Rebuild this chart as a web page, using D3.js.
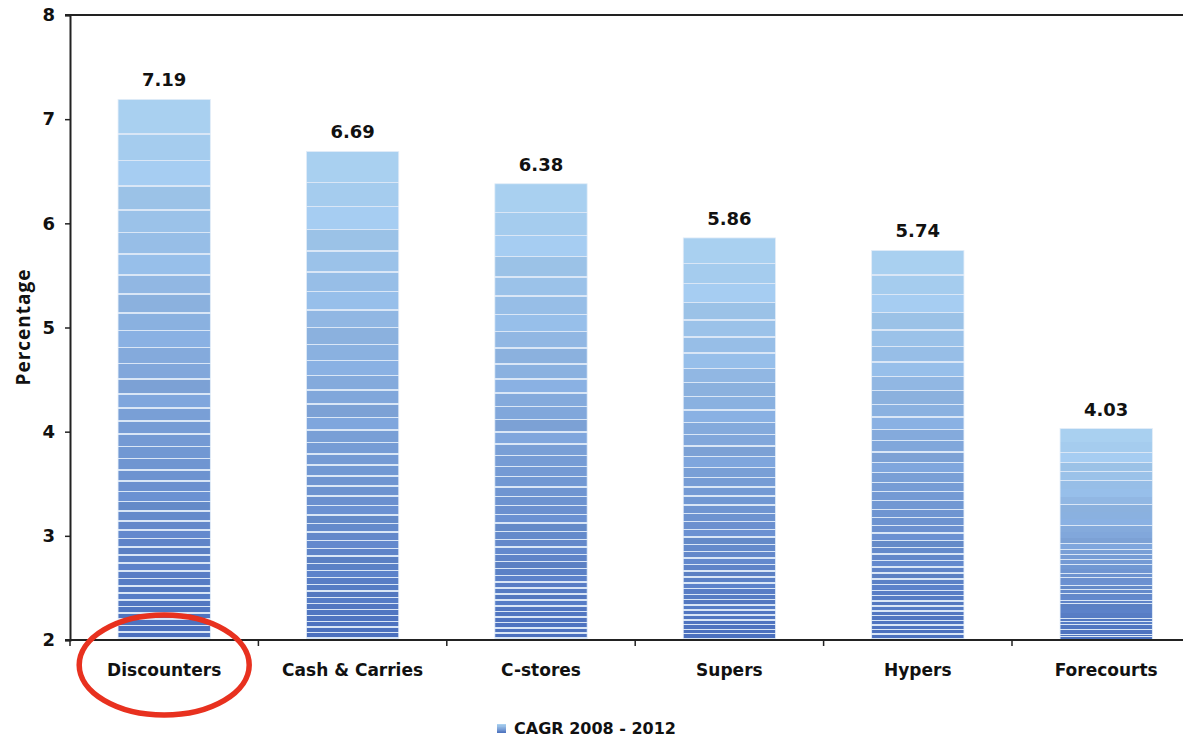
<!DOCTYPE html>
<html>
<head>
<meta charset="utf-8">
<script src="https://cdn.jsdelivr.net/npm/d3@7"></script>
<style>
  body { margin: 0; background: #fff; }
  text { fill: #111; }
</style>
</head>
<body>
<svg id="chart" width="1183" height="739"></svg>
<script>
// chart data
var categories = ["Discounters", "Cash & Carries", "C-stores", "Supers", "Hypers", "Forecourts"];
var cagrValues = [7.19, 6.69, 6.38, 5.86, 5.74, 4.03];
var yTicks = [2, 3, 4, 5, 6, 7, 8];
var seriesName = "CAGR 2008 - 2012";

var svg = d3.select("#chart");

var x = d3.scaleBand()
  .domain(categories)
  .range([70, 1200.4])
  .paddingInner(0.51)
  .paddingOuter(0.255);

var y = d3.scaleLinear()
  .domain([2, 8])
  .range([640, 15]);

// striped gradient for bars (light top, dark bottom, thin pale lines)
var defs = svg.append("defs");
var grad = defs.append("linearGradient")
  .attr("id", "barGrad")
  .attr("x1", 0).attr("y1", 0)
  .attr("x2", 0).attr("y2", 1);

var colorAt = d3.interpolateRgb("#aad1f1", "#4a6fbd");
var stops = [];
var t = 0, k = 0;
while (t < 1) {
  var gap = (k === 0 ? 0.065 : 0.042 * Math.pow(1 - t, 1.3) + 0.011);
  var next = Math.min(1, t + gap);
  var c2 = d3.color(colorAt(Math.pow((t + next) / 2, 1.25)));
  if (k % 4 === 2) c2 = c2.brighter(0.06);
  if (k % 5 === 3) c2 = c2.darker(0.05);
  stops.push([t, c2.formatHex()]);
  var lineStart = Math.max(t, next - 0.0032);
  stops.push([lineStart, c2.formatHex()]);
  stops.push([lineStart, "#d9e6f6"]);
  stops.push([next, "#d9e6f6"]);
  t = next;
  k++;
}
grad.selectAll("stop")
  .data(stops)
  .enter().append("stop")
  .attr("offset", function(d) { return d[0]; })
  .attr("stop-color", function(d) { return d[1]; });

// top frame line
svg.append("line")
  .attr("x1", 65).attr("x2", 1183)
  .attr("y1", 15).attr("y2", 15)
  .attr("stroke", "#222").attr("stroke-width", 2);

// bars
svg.selectAll(".bar")
  .data(categories)
  .enter().append("rect")
  .attr("class", "bar")
  .attr("x", function(d) { return x(d); })
  .attr("width", x.bandwidth())
  .attr("y", function(d, i) { return y(cagrValues[i]); })
  .attr("height", function(d, i) { return y(2) - y(cagrValues[i]); })
  .attr("fill", "url(#barGrad)")
  .attr("stroke", "#e3edf8")
  .attr("stroke-width", 0.8);

// value labels
svg.selectAll(".val")
  .data(categories)
  .enter().append("text")
  .attr("class", "val")
  .attr("x", function(d) { return x(d) + x.bandwidth() / 2; })
  .attr("y", function(d, i) { return y(cagrValues[i]) - 13; })
  .attr("text-anchor", "middle")
  .style("font", "bold 18px 'DejaVu Sans', Verdana, sans-serif")
  .text(function(d, i) { return cagrValues[i].toFixed(2); });

// y axis
var yAxis = svg.append("g")
  .attr("transform", "translate(70,0)")
  .call(d3.axisLeft(y).tickValues(yTicks).tickFormat(d3.format("d")).tickSize(5).tickPadding(10));
yAxis.select(".domain").attr("stroke", "#222").attr("stroke-width", 2);
yAxis.selectAll(".tick line").attr("stroke", "#222").attr("stroke-width", 1.5);
yAxis.selectAll(".tick text")
  .style("font", "bold 18px 'DejaVu Sans', Verdana, sans-serif")
  .attr("fill", "#111");

// x axis with ticks on band boundaries
var xAxisG = svg.append("g");
xAxisG.append("line")
  .attr("x1", 65).attr("x2", 1183)
  .attr("y1", 640).attr("y2", 640)
  .attr("stroke", "#222").attr("stroke-width", 2);
var step = x.step();
xAxisG.selectAll(".xtick")
  .data(d3.range(categories.length))
  .enter().append("line")
  .attr("x1", function(i) { return x.range()[0] + i * step; })
  .attr("x2", function(i) { return x.range()[0] + i * step; })
  .attr("y1", 640).attr("y2", 646)
  .attr("stroke", "#222").attr("stroke-width", 1.5);
xAxisG.selectAll(".xlab")
  .data(categories)
  .enter().append("text")
  .attr("x", function(d) { return x(d) + x.bandwidth() / 2; })
  .attr("y", 676)
  .attr("text-anchor", "middle")
  .style("font", "bold 17px 'DejaVu Sans', Verdana, sans-serif")
  .text(function(d) { return d; });

// y axis title
svg.append("text")
  .attr("transform", "translate(30,327) rotate(-90)")
  .attr("text-anchor", "middle")
  .style("font", "bold 19px 'Open Sans', 'Liberation Sans', sans-serif")
  .style("letter-spacing", "1px")
  .text("Percentage");

// legend
svg.append("rect")
  .attr("x", 497).attr("y", 724)
  .attr("width", 9).attr("height", 9)
  .attr("fill", "url(#barGrad)");
svg.append("text")
  .attr("x", 514).attr("y", 734)
  .style("font", "bold 16px 'DejaVu Sans', Verdana, sans-serif")
  .text(seriesName);

// highlight ring round the first category
svg.append("ellipse")
  .attr("cx", x(categories[0]) + x.bandwidth() / 2)
  .attr("cy", 665)
  .attr("rx", 85).attr("ry", 50)
  .attr("fill", "none")
  .attr("stroke", "#e8311f")
  .attr("stroke-width", 5.5);
</script>
</body>
</html>
